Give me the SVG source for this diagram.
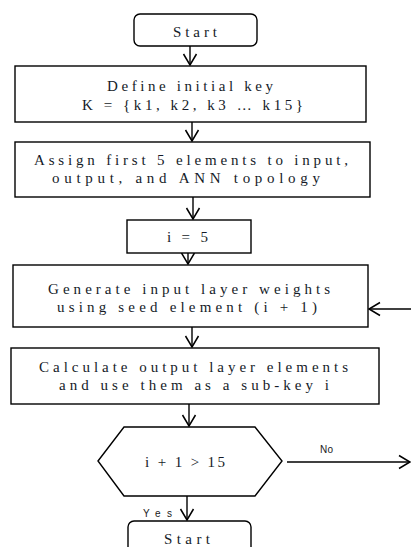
<svg xmlns="http://www.w3.org/2000/svg" width="411" height="547" viewBox="0 0 411 547">
  <style>
    .box { fill: #ffffff; stroke: #000000; stroke-width: 1.4; }
    .lbl { font-family: "Liberation Serif", "Times New Roman", Times, serif; font-size: 15px; fill: #151b28; }
    .tag { font-family: "Liberation Sans", Arial, sans-serif; font-size: 10px; fill: #1a1a1a; }
    .conn line { stroke: #000000; stroke-width: 1.4; fill: none; marker-end: url(#vee); }
  </style>
  <defs>
    <marker id="vee" markerUnits="userSpaceOnUse" markerWidth="16" markerHeight="16" viewBox="-13 -8 15 16" refX="0" refY="0" orient="auto">
      <path d="M-11,-6.5 L0,0 L-11,6.5" fill="none" stroke="#000000" stroke-width="1.5"/>
    </marker>
  </defs>
  <rect width="411" height="547" fill="#ffffff"/>

  <g class="conn" id="connectors">
    <line x1="190" y1="46" x2="190" y2="65"/>
    <line x1="192" y1="122" x2="192" y2="141"/>
    <line x1="193" y1="197" x2="193" y2="219"/>
    <line x1="188" y1="253" x2="188" y2="264"/>
    <line x1="192" y1="327" x2="192" y2="347"/>
    <line x1="189" y1="404" x2="189" y2="426"/>
    <line x1="187" y1="496" x2="187" y2="520"/>
    <line x1="411" y1="309" x2="369" y2="309"/>
    <line x1="287" y1="462" x2="410" y2="462"/>
    <text class="tag" x="320" y="453" textLength="13" lengthAdjust="spacing">No</text>
    <text class="tag" x="143" y="517" textLength="29" lengthAdjust="spacing">Yes</text>
  </g>

  <g id="start">
    <rect class="box" x="134" y="14" width="123" height="32" rx="6"/>
    <text class="lbl" x="173" y="37" textLength="44" lengthAdjust="spacing">Start</text>
  </g>

  <g id="define-key">
    <rect class="box" x="15" y="66" width="351" height="56"/>
    <text class="lbl" x="107" y="91" textLength="166" lengthAdjust="spacing">Define initial key</text>
    <text class="lbl" x="82" y="110" textLength="221" lengthAdjust="spacing">K = {k1, k2, k3 … k15}</text>
  </g>

  <g id="assign">
    <rect class="box" x="15" y="142" width="355" height="55"/>
    <text class="lbl" x="34" y="165" textLength="314" lengthAdjust="spacing">Assign first 5 elements to input,</text>
    <text class="lbl" x="52" y="183" textLength="268" lengthAdjust="spacing">output, and ANN topology</text>
  </g>

  <g id="init-i">
    <rect class="box" x="127" y="220" width="124" height="33"/>
    <text class="lbl" x="167" y="242" textLength="41" lengthAdjust="spacing">i = 5</text>
  </g>

  <g id="generate">
    <rect class="box" x="13" y="265" width="355" height="62"/>
    <text class="lbl" x="48" y="294" textLength="282" lengthAdjust="spacing">Generate input layer weights</text>
    <text class="lbl" x="57" y="312" textLength="260" lengthAdjust="spacing">using seed element (i + 1)</text>
  </g>

  <g id="calculate">
    <rect class="box" x="11" y="348" width="368" height="56"/>
    <text class="lbl" x="39" y="372" textLength="309" lengthAdjust="spacing">Calculate output layer elements</text>
    <text class="lbl" x="59" y="390" textLength="270" lengthAdjust="spacing">and use them as a sub-key i</text>
  </g>

  <g id="decision">
    <polygon class="box" points="98,461 124,427 255,427 282,461 255,496 124,496"/>
    <text class="lbl" x="145" y="467" textLength="80" lengthAdjust="spacing">i + 1 &gt; 15</text>
  </g>

  <g id="end">
    <rect class="box" x="128" y="521" width="123" height="40" rx="6"/>
    <text class="lbl" x="164" y="544" textLength="46" lengthAdjust="spacing">Start</text>
  </g>
</svg>
